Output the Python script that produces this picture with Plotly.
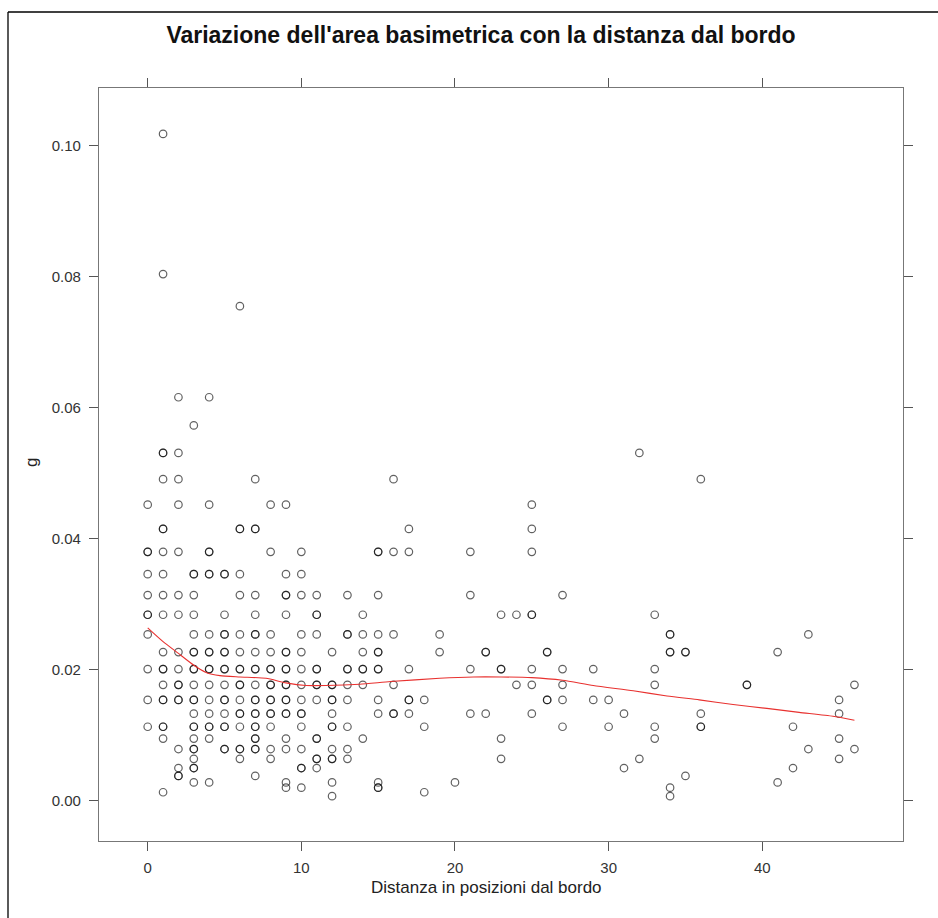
import plotly.graph_objects as go

# Distanza dal bordo (posizioni) e area basimetrica g (m^2) di ciascun albero
distanza = (
    [0] * 11 + [1] * 21 + [2] * 17 + [3] * 23 + [4] * 18 + [5] * 17 + [6] * 18
    + [7] * 22 + [8] * 15 + [9] * 19 + [10] * 15 + [11] * 14 + [12] * 13
    + [13] * 10 + [14] * 7 + [15] * 13 + [16] * 6 + [17] * 6 + [18] * 3
    + [19] * 2 + [20] * 1 + [21] * 4 + [22] * 3 + [23] * 5 + [24] * 2
    + [25] * 8 + [26] * 4 + [27] * 5 + [29] * 2 + [30] * 2 + [31] * 2
    + [32] * 2 + [33] * 5 + [34] * 6 + [35] * 3 + [36] * 4 + [39] * 2
    + [41] * 2 + [42] * 2 + [43] * 2 + [45] * 4 + [46] * 2
)

g = [
    # 0
    0.0452, 0.0380, 0.0380, 0.0346, 0.0314, 0.0284, 0.0284, 0.0254, 0.0201, 0.0154, 0.0113,
    # 1
    0.1018, 0.0804, 0.0531, 0.0531, 0.0491, 0.0415, 0.0415, 0.0380, 0.0346, 0.0314, 0.0284,
    0.0227, 0.0201, 0.0201, 0.0177, 0.0154, 0.0154, 0.0113, 0.0113, 0.0095, 0.0013,
    # 2
    0.0616, 0.0531, 0.0491, 0.0452, 0.0380, 0.0314, 0.0284, 0.0227, 0.0201, 0.0177, 0.0177,
    0.0154, 0.0154, 0.0079, 0.0050, 0.0038, 0.0038,
    # 3
    0.0573, 0.0346, 0.0346, 0.0314, 0.0284, 0.0254, 0.0227, 0.0227, 0.0201, 0.0201, 0.0177,
    0.0154, 0.0154, 0.0133, 0.0113, 0.0113, 0.0095, 0.0079, 0.0079, 0.0064, 0.0050, 0.0050,
    0.0028,
    # 4
    0.0616, 0.0452, 0.0380, 0.0380, 0.0346, 0.0346, 0.0254, 0.0227, 0.0227, 0.0201, 0.0201,
    0.0177, 0.0154, 0.0133, 0.0113, 0.0113, 0.0095, 0.0028,
    # 5
    0.0346, 0.0346, 0.0284, 0.0254, 0.0254, 0.0227, 0.0227, 0.0201, 0.0201, 0.0177, 0.0154,
    0.0154, 0.0133, 0.0113, 0.0113, 0.0079, 0.0079,
    # 6
    0.0755, 0.0415, 0.0415, 0.0346, 0.0314, 0.0254, 0.0227, 0.0201, 0.0201, 0.0177, 0.0177,
    0.0154, 0.0133, 0.0133, 0.0113, 0.0079, 0.0079, 0.0064,
    # 7
    0.0491, 0.0415, 0.0415, 0.0314, 0.0284, 0.0254, 0.0254, 0.0227, 0.0201, 0.0201, 0.0177,
    0.0154, 0.0154, 0.0133, 0.0133, 0.0113, 0.0113, 0.0095, 0.0095, 0.0079, 0.0079, 0.0038,
    # 8
    0.0452, 0.0380, 0.0254, 0.0227, 0.0201, 0.0201, 0.0177, 0.0177, 0.0154, 0.0154, 0.0133,
    0.0133, 0.0113, 0.0079, 0.0064,
    # 9
    0.0452, 0.0346, 0.0314, 0.0314, 0.0284, 0.0227, 0.0227, 0.0201, 0.0201, 0.0177, 0.0177,
    0.0154, 0.0154, 0.0133, 0.0133, 0.0095, 0.0079, 0.0028, 0.0020,
    # 10
    0.0380, 0.0346, 0.0314, 0.0254, 0.0227, 0.0201, 0.0177, 0.0154, 0.0133, 0.0133, 0.0113,
    0.0079, 0.0050, 0.0050, 0.0020,
    # 11
    0.0314, 0.0284, 0.0284, 0.0254, 0.0201, 0.0201, 0.0177, 0.0177, 0.0154, 0.0095, 0.0095,
    0.0064, 0.0064, 0.0050,
    # 12
    0.0227, 0.0177, 0.0177, 0.0154, 0.0154, 0.0133, 0.0113, 0.0113, 0.0079, 0.0064, 0.0064,
    0.0028, 0.0007,
    # 13
    0.0314, 0.0254, 0.0254, 0.0201, 0.0201, 0.0177, 0.0154, 0.0113, 0.0079, 0.0064,
    # 14
    0.0284, 0.0254, 0.0227, 0.0201, 0.0201, 0.0177, 0.0095,
    # 15
    0.0380, 0.0380, 0.0314, 0.0254, 0.0227, 0.0227, 0.0201, 0.0201, 0.0154, 0.0133, 0.0028,
    0.0020, 0.0020,
    # 16
    0.0491, 0.0380, 0.0254, 0.0177, 0.0133, 0.0133,
    # 17
    0.0415, 0.0380, 0.0201, 0.0154, 0.0154, 0.0133,
    # 18
    0.0154, 0.0113, 0.0013,
    # 19
    0.0254, 0.0227,
    # 20
    0.0028,
    # 21
    0.0380, 0.0314, 0.0201, 0.0133,
    # 22
    0.0227, 0.0227, 0.0133,
    # 23
    0.0284, 0.0201, 0.0201, 0.0095, 0.0064,
    # 24
    0.0284, 0.0177,
    # 25
    0.0452, 0.0415, 0.0380, 0.0284, 0.0284, 0.0201, 0.0177, 0.0133,
    # 26
    0.0227, 0.0227, 0.0154, 0.0154,
    # 27
    0.0314, 0.0201, 0.0177, 0.0154, 0.0113,
    # 29
    0.0201, 0.0154,
    # 30
    0.0154, 0.0113,
    # 31
    0.0133, 0.0050,
    # 32
    0.0531, 0.0064,
    # 33
    0.0284, 0.0201, 0.0177, 0.0113, 0.0095,
    # 34
    0.0254, 0.0254, 0.0227, 0.0227, 0.0020, 0.0007,
    # 35
    0.0227, 0.0227, 0.0038,
    # 36
    0.0491, 0.0133, 0.0113, 0.0113,
    # 39
    0.0177, 0.0177,
    # 41
    0.0227, 0.0028,
    # 42
    0.0113, 0.0050,
    # 43
    0.0254, 0.0079,
    # 45
    0.0154, 0.0133, 0.0095, 0.0064,
    # 46
    0.0177, 0.0079,
]

# Curva di lisciamento (loess)
curva_x = [0, 1, 2, 3, 3.8, 4.7, 6, 7.7, 9, 10.3, 11.6, 13.8, 15.8, 19, 21.2, 23,
           25, 27, 29, 31.6, 33.8, 35.9, 38.1, 40.3, 42.4, 44.6, 46]
curva_g = [0.0264, 0.0243, 0.0225, 0.0207, 0.0196, 0.0191, 0.0189, 0.0187, 0.0180,
           0.0176, 0.0176, 0.0178, 0.0182, 0.0187, 0.0189, 0.0189, 0.0188, 0.0184,
           0.0176, 0.0168, 0.0160, 0.0154, 0.0147, 0.0141, 0.0135, 0.0129, 0.0123]

x_ticks = [0, 10, 20, 30, 40]
y_ticks = [0.00, 0.02, 0.04, 0.06, 0.08, 0.10]
y_ticklabels = ["0.00", "0.02", "0.04", "0.06", "0.08", "0.10"]

FONT = "Liberation Sans, Arial, Helvetica, sans-serif"

fig = go.Figure()
fig.add_trace(go.Scatter(
    x=distanza, y=g, mode="markers",
    marker=dict(symbol="circle-open", size=7.5, color="rgba(0,0,0,0.62)",
                line=dict(width=1.2)),
    showlegend=False, hoverinfo="x+y",
))
fig.add_trace(go.Scatter(
    x=curva_x, y=curva_g, mode="lines",
    line=dict(color="#e8312f", width=1.1, shape="spline", smoothing=0.6),
    showlegend=False, hoverinfo="skip",
))

L, R, T, B = 99, 903, 88, 841
W, H = 938, 918


def px_to_paper_x(px):
    return (px - L) / (R - L)


def px_to_paper_y(py):
    return (B - py) / (B - T)


axis_common = dict(
    showgrid=False, zeroline=False, showline=True, linecolor="#777777",
    linewidth=1.2, mirror="ticks", ticks="outside", tickcolor="#555555",
    tickwidth=1.2, tickfont=dict(family=FONT, size=15, color="#333333"),
)

fig.update_layout(
    width=W, height=H,
    margin=dict(l=L, r=W - R, t=T, b=H - B, pad=0),
    paper_bgcolor="white", plot_bgcolor="white",
    title=dict(
        text="Variazione dell'area basimetrica con la distanza dal bordo",
        font=dict(family=FONT, size=23, color="#111111", weight="bold"),
        x=481 / W, xanchor="center", xref="container",
        y=1 - 35 / H, yanchor="middle", yref="container",
    ),
    xaxis=dict(axis_common, range=[-3.17, 49.16], tickvals=x_ticks,
               ticktext=[str(v) for v in x_ticks], ticklen=9,
               ticklabelstandoff=4),
    yaxis=dict(axis_common, range=[-0.00614, 0.10881], tickvals=y_ticks,
               ticktext=y_ticklabels, ticklen=9, ticklabelstandoff=5),
    annotations=[
        dict(text="Distanza in posizioni dal bordo", xref="paper", yref="paper",
             x=px_to_paper_x(486), y=px_to_paper_y(887), xanchor="center",
             yanchor="middle", showarrow=False,
             font=dict(family=FONT, size=17, color="#222222")),
        dict(text="g", xref="paper", yref="paper",
             x=px_to_paper_x(31), y=px_to_paper_y(463), xanchor="center",
             yanchor="middle", showarrow=False, textangle=-90,
             font=dict(family=FONT, size=17, color="#222222")),
    ],
    shapes=[
        dict(type="line", xref="paper", yref="paper",
             x0=px_to_paper_x(8), x1=px_to_paper_x(940),
             y0=px_to_paper_y(12), y1=px_to_paper_y(12),
             line=dict(color="black", width=1.3)),
        dict(type="line", xref="paper", yref="paper",
             x0=px_to_paper_x(8), x1=px_to_paper_x(8),
             y0=px_to_paper_y(12), y1=px_to_paper_y(920),
             line=dict(color="black", width=1.3)),
    ],
)

fig.write_html("out.html")
